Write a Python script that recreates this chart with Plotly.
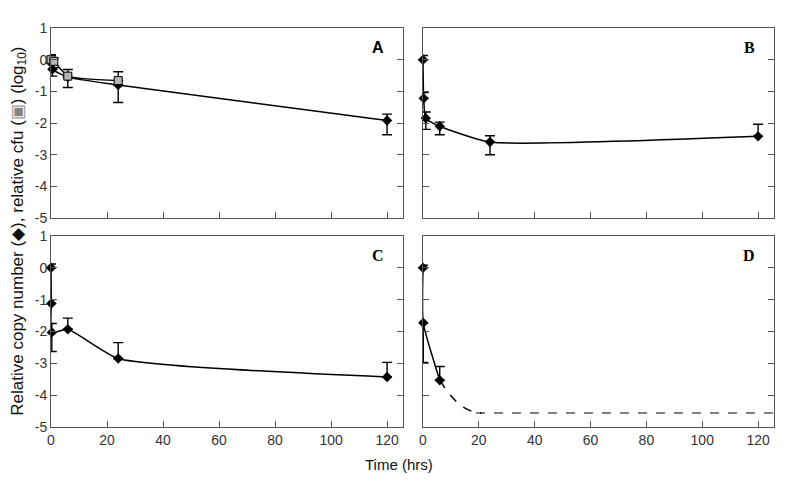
import plotly.graph_objects as go
from plotly.subplots import make_subplots

# ---------------- data ----------------
# Panel A: relative copy number (diamonds) and relative cfu (squares)
a_copy_t = [0, 0.5, 6, 24, 120]
a_copy_y = [-0.1, -0.3, -0.55, -0.8, -1.92]
a_copy_ep = [0.25, 0.0, 0.0, 0.0, 0.2]
a_copy_em = [0.2, 0.22, 0.0, 0.55, 0.45]

a_cfu_t = [0, 1, 6, 24]
a_cfu_y = [0.0, -0.05, -0.52, -0.66]
a_cfu_ep = [0.15, 0.1, 0.21, 0.28]
a_cfu_em = [0.3, 0.2, 0.36, 0.0]

# Panel B
b_t = [0, 0.25, 1, 6, 24, 120]
b_y = [0.0, -1.22, -1.85, -2.1, -2.6, -2.42]
b_ep = [0.13, 0.18, 0.2, 0.13, 0.2, 0.38]
b_em = [0.0, 0.0, 0.35, 0.27, 0.4, 0.0]

# Panel C
c_t = [0, 0.1, 0.3, 6, 24, 120]
c_y = [0.0, -1.12, -2.03, -1.93, -2.85, -3.43]
c_ep = [0.12, 0.12, 0.28, 0.35, 0.5, 0.46]
c_em = [0.0, 0.0, 0.6, 0.0, 0.0, 0.0]

# Panel D
d_t = [0, 0.1, 6]
d_y = [0.0, -1.73, -3.53]
d_ep = [0.08, 0.0, 0.43]
d_em = [0.0, 1.24, 0.0]
d_fit_t = [6, 10, 14, 18, 21]
d_fit_y = [-3.53, -4.02, -4.35, -4.52, -4.56]
d_limit_t = [19, 126]
d_limit_y = [-4.56, -4.56]

y_ticks = [1, 0, -1, -2, -3, -4, -5]
y_ticktext = ["1", "0", "-1", "-2", "-3", "-4", "-5"]
x_ticks = [0, 20, 40, 60, 80, 100, 120]
x_ticktext = ["0", "20", "40", "60", "80", "100", "120"]
panel_labels = ["A", "B", "C", "D"]

# ---------------- figure ----------------
fig = make_subplots(rows=2, cols=2)

err_style = dict(type="data", symmetric=False, color="black", thickness=1.4, width=5)
line_style = dict(color="black", width=1.5, shape="spline", smoothing=0.5)
diamond = dict(symbol="diamond", size=8, color="black")
square = dict(symbol="square", size=8, color="#b5b5b5", line=dict(color="black", width=1))


def add_series(t, y, ep, em, row, col, marker, line=line_style):
    fig.add_trace(go.Scatter(
        x=t, y=y, mode="lines+markers", marker=marker, line=line,
        error_y=dict(array=ep, arrayminus=em, **err_style),
        cliponaxis=False, showlegend=False), row=row, col=col)


add_series(a_copy_t, a_copy_y, a_copy_ep, a_copy_em, 1, 1, diamond)
add_series(a_cfu_t, a_cfu_y, a_cfu_ep, a_cfu_em, 1, 1, square)
add_series(b_t, b_y, b_ep, b_em, 1, 2, diamond)
add_series(c_t, c_y, c_ep, c_em, 2, 1, diamond)
add_series(d_t, d_y, d_ep, d_em, 2, 2, diamond)

fig.add_trace(go.Scatter(x=d_fit_t, y=d_fit_y, mode="lines",
                         line=dict(color="black", width=1.5, dash="dash", shape="spline"),
                         showlegend=False), row=2, col=2)
fig.add_trace(go.Scatter(x=d_limit_t, y=d_limit_y, mode="lines",
                         line=dict(color="black", width=1.2, dash="dash"),
                         showlegend=False), row=2, col=2)

tick_font = dict(family="Liberation Sans Narrow, Liberation Sans, Arial", size=14, color="#333")
axis_common = dict(showline=True, linecolor="#555", linewidth=1, showgrid=False, zeroline=False,
                   ticks="inside", ticklen=6, tickcolor="#555", tickfont=tick_font)

x_dom = {1: [0.0, 0.4869], 2: [0.5145, 1.0]}
y_dom = {1: [0.5236, 1.0], 2: [0.0, 0.4789]}

label_fonts = ["Liberation Sans, Arial", "Liberation Serif, serif",
               "Liberation Serif, serif", "Liberation Serif, serif"]

for i, (r, c) in enumerate([(1, 1), (1, 2), (2, 1), (2, 2)]):
    fig.update_xaxes(range=[0, 125.7], domain=x_dom[c], tickvals=x_ticks, ticktext=x_ticktext,
                     showticklabels=(r == 2), mirror=True, row=r, col=c, **axis_common)
    fig.update_yaxes(range=[-5, 1], domain=y_dom[r], tickvals=y_ticks, ticktext=y_ticktext,
                     showticklabels=(c == 1), mirror="ticks", row=r, col=c, **axis_common)
    xref = "x domain" if i == 0 else f"x{i+1} domain"
    yref = "y domain" if i == 0 else f"y{i+1} domain"
    fig.add_annotation(text=f"<b>{panel_labels[i]}</b>", xref=xref, yref=yref,
                       x=0.93, y=0.90, xanchor="center", yanchor="middle", showarrow=False,
                       font=dict(family=label_fonts[i], size=16, color="black"))

fig.add_annotation(text="Time (hrs)", xref="paper", yref="paper", x=0.482, y=-0.095,
                   xanchor="center", yanchor="middle", showarrow=False,
                   font=dict(family="Liberation Sans, Arial", size=15, color="#111"))
fig.add_annotation(
    text="Relative copy number (\u25c6), relative cfu (<span style='color:#888'>\u25a3</span>) (log<sub>10</sub>)",
    xref="paper", yref="paper", x=-0.044, y=0.49, xanchor="center", yanchor="middle",
    textangle=-90, showarrow=False,
    font=dict(family="Liberation Sans, Arial", size=17, color="#111"))

# the page body has an 8px default margin, so the figure is made 8px smaller
fig.update_layout(width=779, height=478, margin=dict(l=43, r=13, t=16, b=59),
                  plot_bgcolor="white", paper_bgcolor="white")

fig.write_html("out.html")
